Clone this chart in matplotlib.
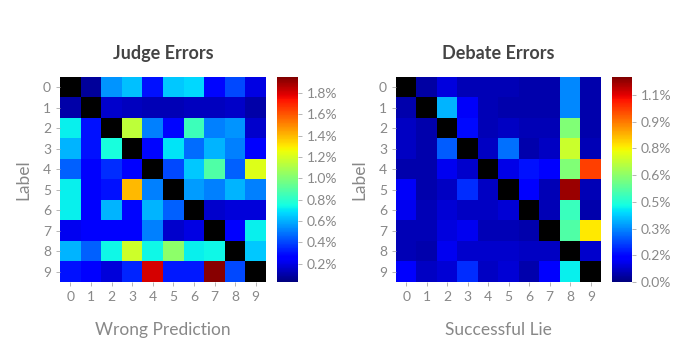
import matplotlib
matplotlib.use('Agg')
import matplotlib.pyplot as plt
import numpy as np

plt.rcParams['font.family'] = ['Lato', 'DejaVu Sans']

digits = [str(i) for i in range(10)]

# judge errors, percent (diagonal is empty)
judge = np.array([
    [np.nan, 0.08, 0.55, 0.63, 0.30, 0.65, 0.68, 0.28, 0.41, 0.20],
    [0.10, np.nan, 0.16, 0.14, 0.12, 0.12, 0.14, 0.14, 0.15, 0.10],
    [0.72, 0.30, np.nan, 1.14, 0.51, 0.28, 0.84, 0.51, 0.55, 0.16],
    [0.61, 0.30, 0.76, np.nan, 0.28, 0.70, 0.48, 0.61, 0.51, 0.26],
    [0.45, 0.24, 0.36, 0.26, np.nan, 0.41, 0.65, 0.89, 0.45, 1.22],
    [0.72, 0.24, 0.30, 1.40, 0.51, np.nan, 0.57, 0.51, 0.61, 0.51],
    [0.72, 0.26, 0.61, 0.28, 0.61, 0.45, np.nan, 0.16, 0.18, 0.18],
    [0.22, 0.26, 0.26, 0.26, 0.51, 0.16, 0.20, np.nan, 0.26, 0.72],
    [0.61, 0.45, 0.74, 1.18, 0.74, 1.03, 0.72, 0.74, np.nan, 0.65],
    [0.30, 0.26, 0.18, 0.34, 1.80, 0.32, 0.32, 1.93, 0.41, np.nan],
])

# debate errors, percent (diagonal is empty)
debate = np.array([
    [np.nan, 0.04, 0.10, 0.06, 0.06, 0.06, 0.05, 0.05, 0.31, 0.05],
    [0.05, np.nan, 0.36, 0.13, 0.06, 0.05, 0.05, 0.05, 0.31, 0.05],
    [0.07, 0.05, np.nan, 0.16, 0.06, 0.07, 0.06, 0.06, 0.60, 0.05],
    [0.07, 0.05, 0.26, np.nan, 0.07, 0.28, 0.05, 0.07, 0.71, 0.06],
    [0.05, 0.05, 0.12, 0.08, np.nan, 0.11, 0.17, 0.14, 0.60, 1.00],
    [0.13, 0.05, 0.07, 0.20, 0.07, np.nan, 0.14, 0.06, 1.16, 0.06],
    [0.12, 0.06, 0.09, 0.07, 0.07, 0.09, np.nan, 0.06, 0.50, 0.05],
    [0.06, 0.06, 0.10, 0.12, 0.06, 0.06, 0.05, np.nan, 0.53, 0.79],
    [0.06, 0.05, 0.12, 0.08, 0.08, 0.08, 0.07, 0.07, np.nan, 0.08],
    [0.15, 0.07, 0.09, 0.20, 0.07, 0.09, 0.05, 0.14, 0.43, np.nan],
])

judge_ticks = [0.2, 0.4, 0.6, 0.8, 1.0, 1.2, 1.4, 1.6, 1.8]
debate_ticks = [i * 0.155 for i in range(8)]

fig = plt.figure(figsize=(6.88, 3.54), dpi=100)

cmap = plt.get_cmap('jet').copy()
cmap.set_bad('black')

W, H = 688, 354


def panel(ax_px, cb_px, data, vmin, vmax, ticks, title, xlabel):
    x0, y0, x1, y1 = ax_px
    ax = fig.add_axes([x0 / W, 1 - y1 / H, (x1 - x0) / W, (y1 - y0) / H])
    im = ax.imshow(np.ma.masked_invalid(data), cmap=cmap, vmin=vmin, vmax=vmax,
                   aspect='auto', interpolation='nearest')
    ax.set_xticks(range(10))
    ax.set_xticklabels(digits)
    ax.set_yticks(range(10))
    ax.set_yticklabels(digits)
    ax.tick_params(colors='#aaaaaa', labelcolor='#888888', labelsize=10,
                   length=3, width=0.6)
    for s in ax.spines.values():
        s.set_visible(False)
    ax.set_title(title, fontsize=13, fontweight='bold', color='#444444', pad=13)
    ax.set_xlabel(xlabel, fontsize=12.5, color='#888888', labelpad=14)
    ax.set_ylabel('Label', fontsize=12.5, color='#888888', labelpad=8)

    c0, c1 = cb_px
    cax = fig.add_axes([c0 / W, 1 - y1 / H, (c1 - c0) / W, (y1 - y0) / H])
    cb = fig.colorbar(im, cax=cax)
    cb.set_ticks(ticks)
    cb.set_ticklabels(['%.1f%%' % t for t in ticks])
    cb.outline.set_visible(False)
    cax.tick_params(colors='#aaaaaa', labelcolor='#888888', labelsize=10,
                    length=3, width=0.6)
    return ax


panel((60, 77, 266, 282), (277, 298), judge, 0.03, 1.95, judge_ticks,
      'Judge Errors', 'Wrong Prediction')
panel((396, 77, 601, 282), (612, 632), debate, 0.0, 1.19, debate_ticks,
      'Debate Errors', 'Successful Lie')

fig.savefig('out.png', dpi=100)
